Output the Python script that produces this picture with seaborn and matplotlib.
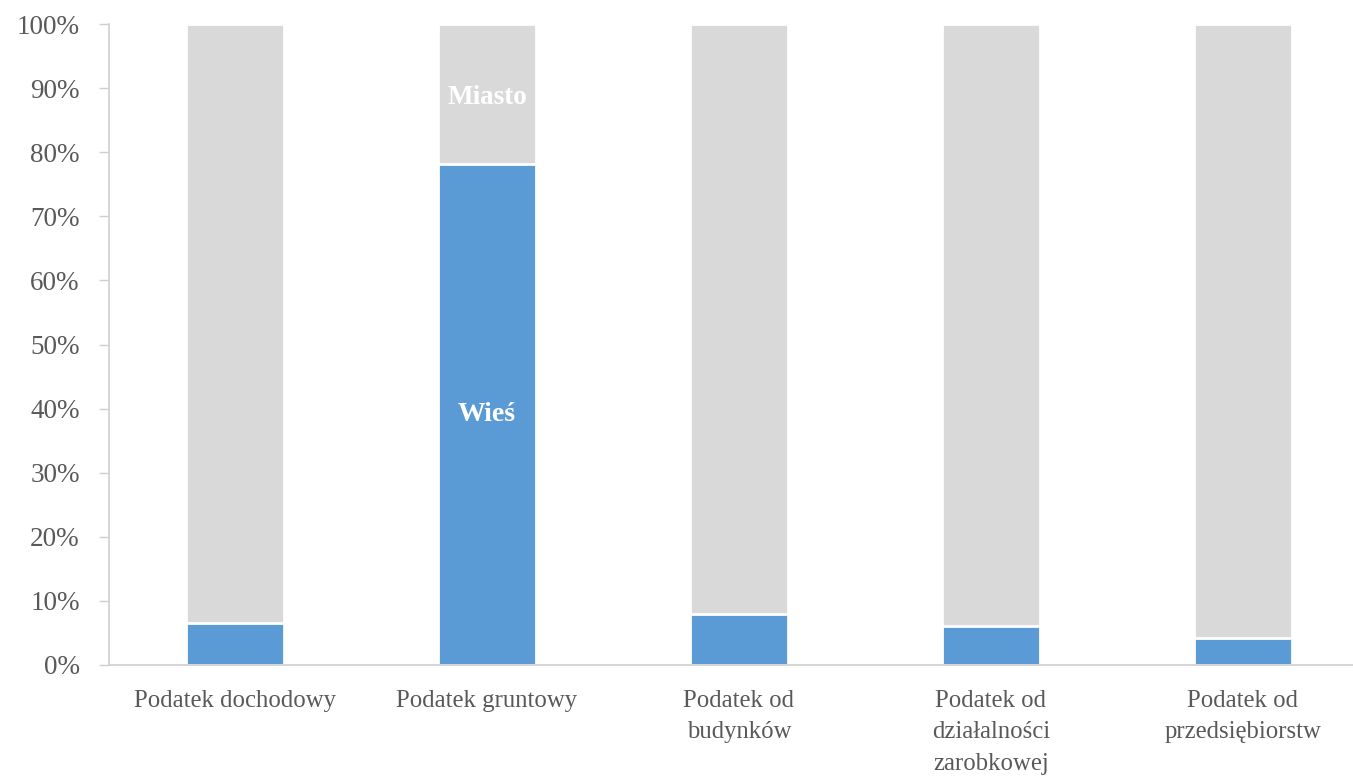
import matplotlib
matplotlib.use("Agg")
import matplotlib.pyplot as plt
import seaborn as sns
import pandas as pd
from matplotlib.ticker import PercentFormatter

categories = [
    "Podatek dochodowy",
    "Podatek gruntowy",
    "Podatek od\nbudynków",
    "Podatek od\ndziałalności\nzarobkowej",
    "Podatek od\nprzedsiębiorstw",
]
wies = [6.6, 78.2, 8.0, 6.1, 4.2]
miasto = [100 - v for v in wies]

df = pd.DataFrame({"kategoria": categories, "Wieś": wies, "Miasto": miasto})
df["suma"] = df["Wieś"] + df["Miasto"]

sns.set_theme(style="white")
plt.rcParams["font.family"] = ["Liberation Serif", "DejaVu Serif"]

text_color = "#595959"
fig = plt.figure(figsize=(13.53, 7.82), dpi=100)
ax = fig.add_axes([109 / 1353, 117 / 782, 1 - 109 / 1353, 641 / 782])

# Miasto segment drawn as the full stack, Wieś on top of it from zero
sns.barplot(data=df, x="kategoria", y="suma", color="#d9d9d9", width=0.39,
            saturation=1, edgecolor="white", linewidth=2, ax=ax)
sns.barplot(data=df, x="kategoria", y="Wieś", color="#5b9bd5", width=0.39,
            saturation=1, edgecolor="white", linewidth=2, ax=ax)

ax.set_xlim(-0.5, 4.437)
ax.set_ylim(0, 100)
ax.set_yticks(range(0, 101, 10))
ax.yaxis.set_major_formatter(PercentFormatter(decimals=0))
ax.set_xlabel("")
ax.set_ylabel("")

for side in ["top", "right"]:
    ax.spines[side].set_visible(False)
for side in ["left", "bottom"]:
    ax.spines[side].set_color("#d0d0d0")
    ax.spines[side].set_linewidth(1.2)

ax.tick_params(axis="y", which="major", left=True, length=7, width=1,
               color="#d0d0d0", pad=14, labelsize=19.5, labelcolor=text_color)
ax.tick_params(axis="x", which="major", bottom=False, pad=12,
               labelsize=17.8, labelcolor=text_color)
for lbl in ax.get_xticklabels():
    lbl.set_linespacing(1.55)

# segment names on the second bar
ax.text(1, wies[1] / 2, "Wieś", ha="center", va="center", color="white",
        fontsize=20, fontweight="bold")
ax.text(1, wies[1] + miasto[1] / 2 - 0.6, "Miasto", ha="center", va="center",
        color="white", fontsize=19.5, fontweight="bold")

fig.savefig("out.png", dpi=100, facecolor="white")
